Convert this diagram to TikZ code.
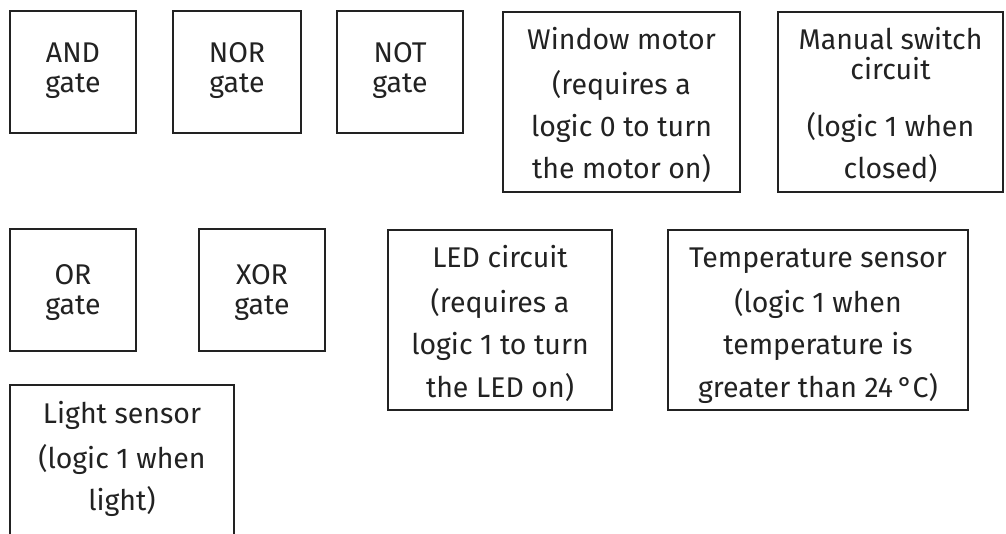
\documentclass[tikz,border=0pt]{standalone}
\usepackage{fontspec}
\setmainfont{Fira Sans}
\definecolor{ink}{HTML}{222222}
\tikzset{
  box/.style={draw=ink, line width=2.2pt, inner sep=0pt},
  txt/.style={anchor=base, inner sep=0pt, text=ink, font=\fontsize{28.5}{34}\selectfont}
}
\begin{document}
\begin{tikzpicture}[x=1pt,y=-1pt]
\useasboundingbox (0,0) rectangle (1006,534);
% row 1 gates
\node[box, minimum width=126pt, minimum height=122pt] (and) at (73,72) {};
\node[box, minimum width=128pt, minimum height=122pt] (nor) at (237,72) {};
\node[box, minimum width=126pt, minimum height=122pt] (not) at (400,72) {};
\node[txt] (and1) at (73,63) {AND};
\node[txt] (and2) at (73,93) {gate};
\node[txt] (nor1) at (237,63) {NOR};
\node[txt] (nor2) at (237,93) {gate};
\node[txt] (not1) at (400,63) {NOT};
\node[txt] (not2) at (400,93) {gate};
% window motor
\node[box, minimum width=237pt, minimum height=180pt] (win) at (621.5,102) {};
\node[txt] (win1) at (621.5,50) {Window motor};
\node[txt] (win2) at (621.5,95) {(requires a};
\node[txt] (win3) at (621.5,137) {logic 0 to turn};
\node[txt] (win4) at (621.5,179) {the motor on)};
% manual switch
\node[box, minimum width=225pt, minimum height=180pt] (man) at (890.5,102) {};
\node[txt] (man1) at (890.5,50) {Manual switch};
\node[txt] (man2) at (890.5,80) {circuit};
\node[txt] (man3) at (890.5,137) {(logic 1 when};
\node[txt] (man4) at (890.5,179) {closed)};
% row 2 gates
\node[box, minimum width=126pt, minimum height=122pt] (or) at (73,290) {};
\node[box, minimum width=126pt, minimum height=122pt] (xor) at (262,290) {};
\node[txt] (or1) at (73,285) {OR};
\node[txt] (or2) at (73,315) {gate};
\node[txt] (xor1) at (262,285) {XOR};
\node[txt] (xor2) at (262,315) {gate};
% LED circuit
\node[box, minimum width=224pt, minimum height=180pt] (led) at (500,320) {};
\node[txt] (led1) at (500,268) {LED circuit};
\node[txt] (led2) at (500,313) {(requires a};
\node[txt] (led3) at (500,355) {logic 1 to turn};
\node[txt] (led4) at (500,397) {the LED on)};
% temperature sensor
\node[box, minimum width=300pt, minimum height=180pt] (tmp) at (818,320) {};
\node[txt] (tmp1) at (818,268) {Temperature sensor};
\node[txt] (tmp2) at (818,313) {(logic 1 when};
\node[txt] (tmp3) at (818,355) {temperature is};
\node[txt] (tmp4) at (818,397) {greater than 24\,°C)};
% light sensor
\node[box, minimum width=224pt, minimum height=180pt] (lgt) at (122,475) {};
\node[txt] (lgt1) at (122,423) {Light sensor};
\node[txt] (lgt2) at (122,468) {(logic 1 when};
\node[txt] (lgt3) at (122,510) {light)};
\end{tikzpicture}
\end{document}
